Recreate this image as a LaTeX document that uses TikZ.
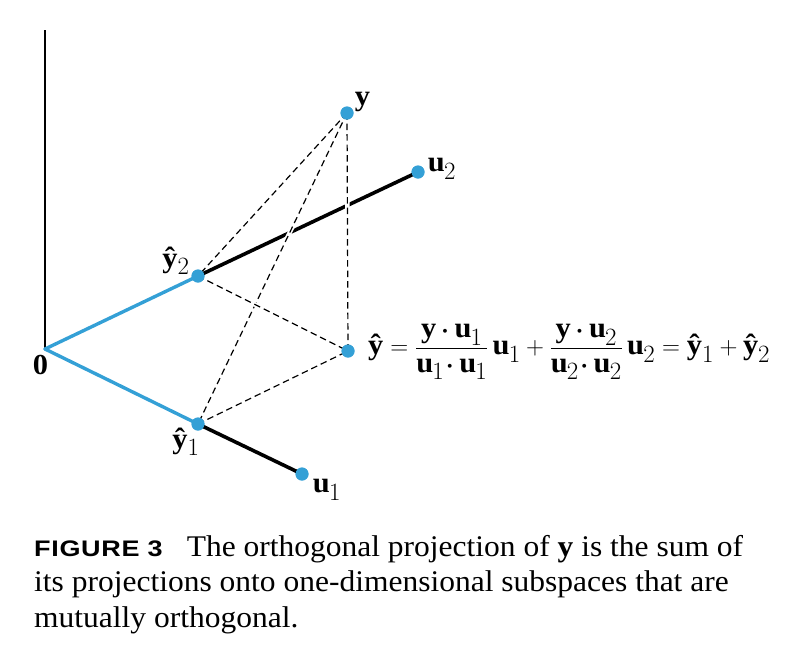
\documentclass[tikz,border=0pt]{standalone}
\usepackage{amsmath}
\usepackage{fontspec}
\setmainfont{Liberation Serif}[FakeStretch=1.05]
\newfontfamily\capsans{Liberation Sans}[FakeStretch=1.2, LetterSpace=3]
\DeclareMathSizes{29}{29}{24}{18}
\definecolor{ptblue}{RGB}{52,160,214}
\newcommand{\yhat}{\text{\bfseries ŷ}}
\newcommand{\bvec}[1]{\mathbf{#1}}
\newcommand{\bdot}{\mathbin{\boldsymbol{\cdot}}}
\tikzset{
  pt/.style={circle, fill=ptblue, inner sep=0pt, minimum size=13pt},
  bluepath/.style={draw=ptblue, line width=3.4pt},
  blackpath/.style={draw=black, line width=3.6pt},
  dashpath/.style={draw=black, line width=1.2pt, dash pattern=on 6.5pt off 4pt,
    preaction={draw=white, solid, line width=4.5pt, shorten <=10pt, shorten >=10pt}},
  lbl/.style={inner sep=0pt, font=\fontsize{29}{33}\selectfont},
}
\begin{document}
\begin{tikzpicture}[x=1pt, y=-1pt]
\useasboundingbox (0,0) rectangle (798,670);
% points
\coordinate (top) at (45,30);
\coordinate (o) at (45,349);
\node[pt] (y2) at (198,276) {};
\node[pt] (y1) at (198,424) {};
\node[pt] (u2) at (418,172) {};
\node[pt] (u1) at (302,474) {};
\node[pt] (y) at (347,113) {};
\node[pt] (yh) at (348,351) {};
% axis
\draw[line width=1.5pt] (top) -- (o);
% segments
\draw[blackpath] (y2.center) -- (u2.center);
\draw[blackpath] (y1.center) -- (u1.center);
\draw[bluepath, line cap=round] (o) -- (y2.center);
\draw[bluepath, line cap=round] (o) -- (y1.center);
% dashed
\draw[dashpath] (y.center) -- (yh.center);
\draw[dashpath] (y.center) -- (y2.center);
\draw[dashpath] (y.center) -- (y1.center);
\draw[dashpath] (y2.center) -- (yh.center);
\draw[dashpath] (y1.center) -- (yh.center);
% redraw dots on top
\foreach \p in {y2,y1,u2,u1,y,yh} \fill[ptblue] (\p) circle (6.5pt);
% labels
\node[lbl] (ly) at (362,102) {$\bvec{y}$};
\node[lbl] (lu2) at (442,169) {$\bvec{u}_2$};
\node[lbl] (ly2) at (176,261) {$\yhat_2$};
\node[lbl] (l0) at (40,365) {$\mathbf{0}$};
\node[lbl] (ly1) at (186,442) {$\yhat_1$};
\node[lbl] (lu1) at (327,490) {$\bvec{u}_1$};
\node[lbl, anchor=west] (eq) at (368,352)
  {$\yhat = \dfrac{\bvec{y}\bdot\bvec{u}_1}{\bvec{u}_1\!\bdot\bvec{u}_1}\,\bvec{u}_1
   + \dfrac{\bvec{y}\bdot\bvec{u}_2}{\bvec{u}_2\!\bdot\bvec{u}_2}\,\bvec{u}_2
   = \yhat_1 + \yhat_2$};
% caption
\node[anchor=north west, inner sep=0pt, align=left,
  font=\fontsize{30}{35.5}\selectfont] (cap) at (34,535)
  {{\fontsize{22.5}{26}\capsans\bfseries FIGURE 3}\hspace{24pt}The orthogonal projection of \textbf{y} is the sum of\\
   its projections onto one-dimensional subspaces that are\\
   mutually orthogonal.};
\end{tikzpicture}
\end{document}
